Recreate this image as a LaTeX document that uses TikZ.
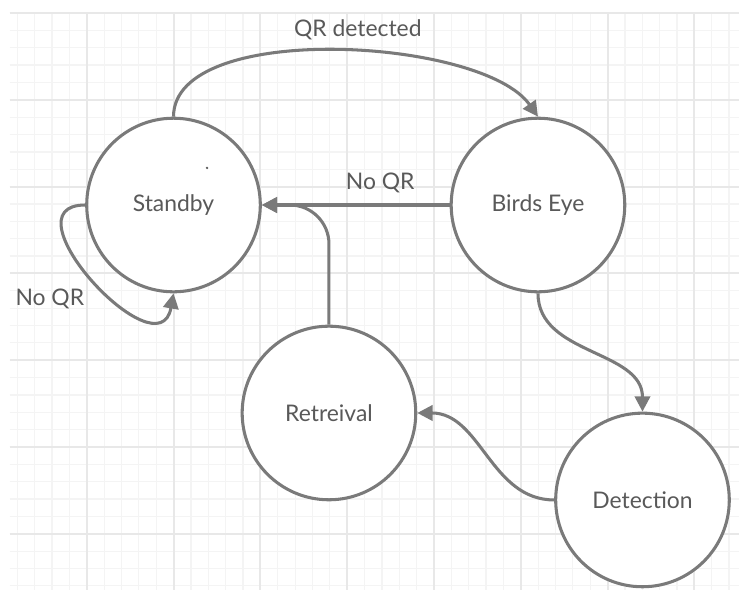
\documentclass[tikz,border=0pt]{standalone}
\usepackage{fontspec}
\setmainfont{Lato}
\usetikzlibrary{arrows.meta}

\definecolor{linegray}{HTML}{7A7A7A}
\definecolor{textgray}{HTML}{595959}
\definecolor{gridminor}{HTML}{F4F4F4}
\definecolor{gridmajor}{HTML}{E8E8E8}

\tikzset{
  state/.style={draw=linegray, line width=1pt, circle, fill=white,
    minimum size=2cm, inner sep=0pt, text=textgray,
    font=\fontsize{7.5}{9}\selectfont},
  trans/.style={draw=linegray, line width=1pt,
    -{Triangle[length=5pt,width=5pt]}},
  lbl/.style={text=textgray, font=\fontsize{7.5}{9}\selectfont},
}

\begin{document}
\begin{tikzpicture}
  \useasboundingbox[fill=white] (0,0) rectangle (8.514,6.797);

  % paper grid, a major line every cm
  \begin{scope}[yshift=0.647cm]
    \draw[gridminor, line width=0.4pt, step=0.2] (0.115,-0.647) grid (8.514,6);
    \draw[gridmajor, line width=0.6pt, step=1] (0.115,-0.647) grid (8.514,6);
  \end{scope}

  \node[state] (S) at (1.999,4.435) {Standby};
  \node[state] (B) at (6.198,4.435) {Birds Eye};
  \node[state] (R) at (3.790,2.039) {Retreival};
  \node[state] (D) at (7.402,1.037) {Detection};

  \fill[textgray] (2.385,4.862) circle (0.015);

  \draw[trans] (S.north) to[out=90, in=125, looseness=0.68]
    node[lbl, pos=0.545, above] {QR detected} (B.north);
  \draw[trans] (B.west) -- node[lbl, pos=0.37, above] {No QR} (S.east);
  \draw[trans, rounded corners=0.45cm] (R.north) |- (S.east);
  \draw[trans] (B.south) to[out=-90, in=90] (D.north);
  \draw[trans] (D.west) to[out=180, in=0] (R.east);

  % self loop on standby
  \draw[trans] (S.west) to[out=180, in=-100, looseness=1.7]
    node[lbl, pos=0.5, below left=-1pt] {No QR} (S.south);
\end{tikzpicture}
\end{document}
